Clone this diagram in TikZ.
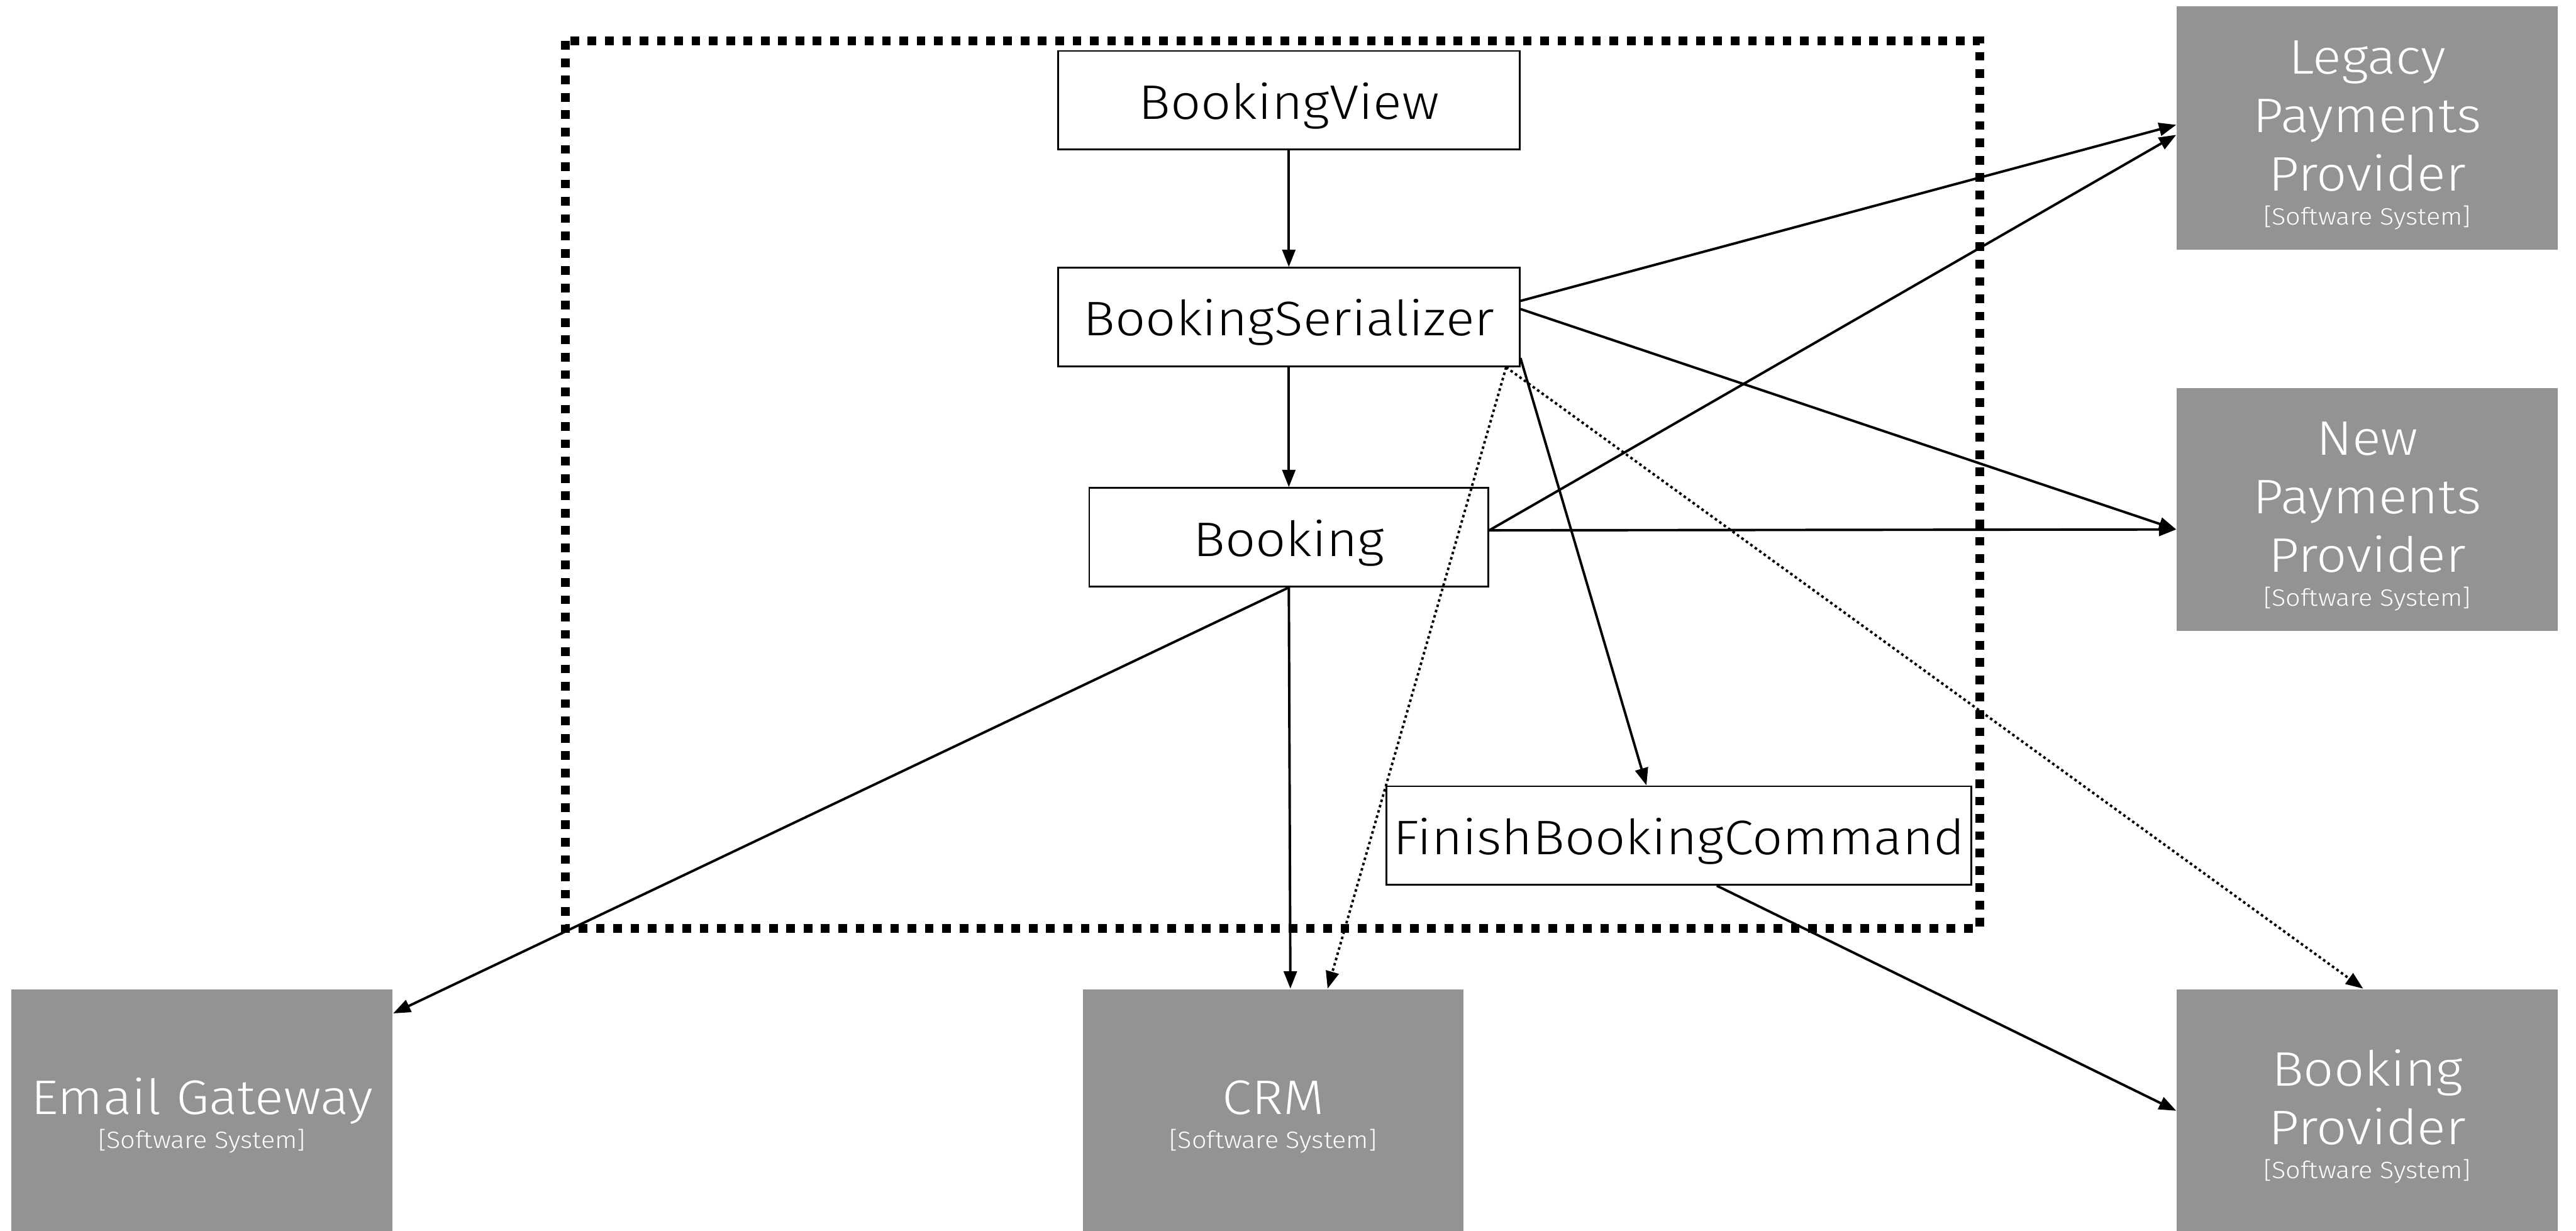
\documentclass[tikz,border=0pt]{standalone}
\usepackage{fontspec}
\setmainfont{Fira Sans}[UprightFont=* Light, FakeStretch=1.1]
\usepackage{tikz}
\usetikzlibrary{positioning, arrows.meta}
\definecolor{sysgray}{RGB}{147,147,147}

\begin{document}
\begin{tikzpicture}[
		x=0.02cm, y=-0.02cm,
		comp/.style={rectangle,draw,line width=0.6pt,minimum height=1.2cm,inner sep=0pt,
			text height=17pt,text depth=4pt,font=\fontsize{16.8}{20.2}\selectfont},
		ext/.style={rectangle,fill=sysgray,text=white,minimum width=4.64cm,minimum height=2.96cm,
			align=center,inner sep=0pt,font=\fontsize{16.8}{20.2}\selectfont,
			text height=#1,text depth=0pt},
		rel/.style={line width=0.85pt,-{Triangle[length=6pt,width=4.5pt]}},
		dep/.style={rel,dash pattern=on 0.9pt off 1pt},
		boundary/.style={line width=3pt,dash pattern=on 3pt off 3pt}]
		\useasboundingbox (0,0) rectangle (1568,749);

		\draw[boundary] (344,25) rectangle (1205,565);

		\node[comp,minimum width=5.62cm] (view) at (784.5,61)  {BookingView};
		\node[comp,minimum width=5.62cm] (ser)  at (784.5,193) {BookingSerializer};
		\node[comp,minimum width=4.86cm] (bk)   at (784.5,327) {Booking};
		\node[comp,minimum width=7.12cm] (fbc)  at (1022,508.5) {FinishBookingCommand};

		\node[ext=66.8pt] (legacy) at (1441,78)  {Legacy\\Payments\\Provider\\[-8.5pt]{\fontsize{8.2}{10}\selectfont [Software System]}};
		\node[ext=66.8pt] (newp)   at (1441,310) {New\\Payments\\Provider\\[-8.5pt]{\fontsize{8.2}{10}\selectfont [Software System]}};
		\node[ext=46.8pt] (bprov)  at (1441,676) {Booking\\Provider\\[-8.5pt]{\fontsize{8.2}{10}\selectfont [Software System]}};
		\node[ext=26pt]   (email)  at (123,676)  {Email Gateway\\[-8.5pt]{\fontsize{8.2}{10}\selectfont [Software System]}};
		\node[ext=26pt]   (crm)    at (775,676)  {CRM\\[-8.5pt]{\fontsize{8.2}{10}\selectfont [Software System]}};

		\draw[rel] (view) -- (ser);
		\draw[rel] (ser) -- (bk);
		\draw[rel] (ser.4) -- (legacy.179);
		\draw[rel] (ser.2) -- (newp.186);
		\draw[rel] (ser.-10) -- (fbc.123);
		\draw[dep] (ser.-13) -- (bprov.92);
		\draw[dep] (ser.-13) -- (crm.66);

		\draw[rel] (bk.2) -- (legacy.182);
		\draw[rel] (bk.2) -- (newp.186);
		\draw[rel] (bk.south) -- (email.27);
		\draw[rel] (bk.south) -- (crm.82);

		\draw[rel] (fbc.-53) -- (bprov.west);

\end{tikzpicture}
\end{document}
